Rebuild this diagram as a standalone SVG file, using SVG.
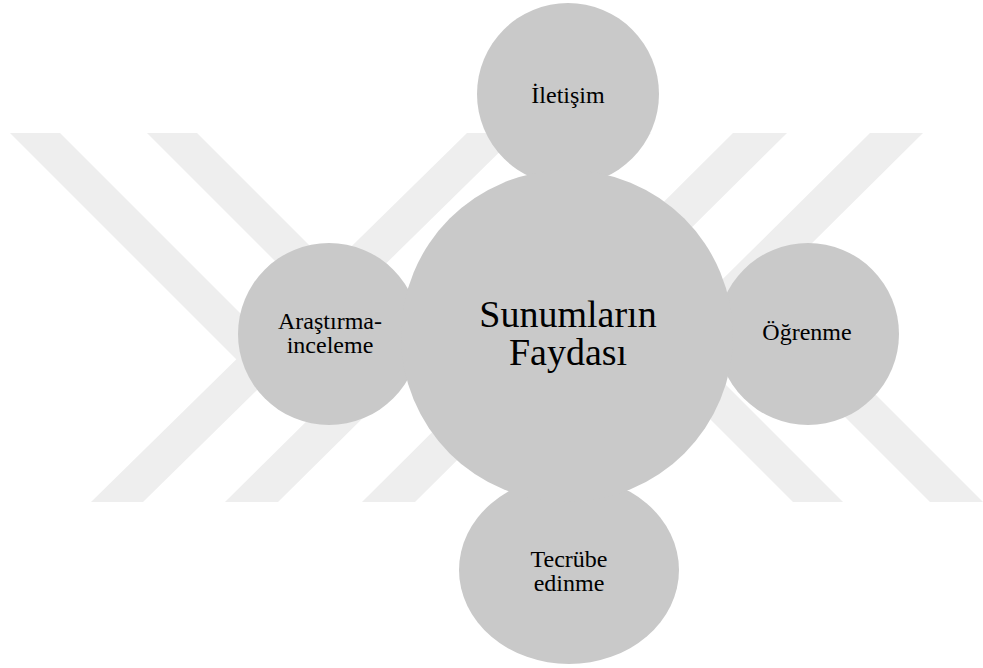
<svg xmlns="http://www.w3.org/2000/svg" width="983" height="668" viewBox="0 0 983 668">
  <style>
    .band { fill: #eeeeee; }
    .bubble { fill: #c9c9c9; }
    .label { fill: #000000; text-anchor: middle; }
  </style>

  <rect x="0" y="0" width="983" height="668" fill="#ffffff"/>

  <!-- light diagonal background bands -->
  <g id="backdrop">
    <!-- long bands rising to the right -->
    <polygon class="band" points="91,502 143,502 519,133 467,133"/>
    <polygon class="band" points="225,502 278,502 651,133 598,133"/>
    <polygon class="band" points="362,502 415,502 787,133 733,133"/>
    <polygon class="band" points="498,502 551,502 923,133 870,133"/>
    <!-- short bands falling from the top left -->
    <polygon class="band" points="10,133 60,133 287,360 237,360"/>
    <polygon class="band" points="147,133 197,133 422,358 372,358"/>
    <!-- short bands rising from the bottom right -->
    <polygon class="band" points="793,502 843,502 698,357 648,357"/>
    <polygon class="band" points="930,502 983,502 768,287 715,287"/>
  </g>

  <g font-family="'Liberation Serif', 'Times New Roman', serif">
    <g id="node-iletisim" font-size="24">
      <circle class="bubble" cx="568" cy="94" r="91"/>
      <text class="label" x="568" y="103">İletişim</text>
    </g>

    <g id="node-arastirma" font-size="24">
      <circle class="bubble" cx="329" cy="334" r="91"/>
      <text class="label" x="330" y="329">Araştırma-</text>
      <text class="label" x="330" y="353">inceleme</text>
    </g>

    <g id="node-ogrenme" font-size="24">
      <circle class="bubble" cx="808" cy="334" r="91"/>
      <text class="label" x="807" y="340">Öğrenme</text>
    </g>

    <g id="node-tecrube" font-size="24">
      <ellipse class="bubble" cx="569" cy="570" rx="110" ry="94"/>
      <text class="label" x="569" y="567">Tecrübe</text>
      <text class="label" x="569" y="591">edinme</text>
    </g>

    <g id="node-center" font-size="38">
      <circle class="bubble" cx="567" cy="336" r="166"/>
      <text class="label" x="568" y="327">Sunumların</text>
      <text class="label" x="568" y="365">Faydası</text>
    </g>
  </g>
</svg>
